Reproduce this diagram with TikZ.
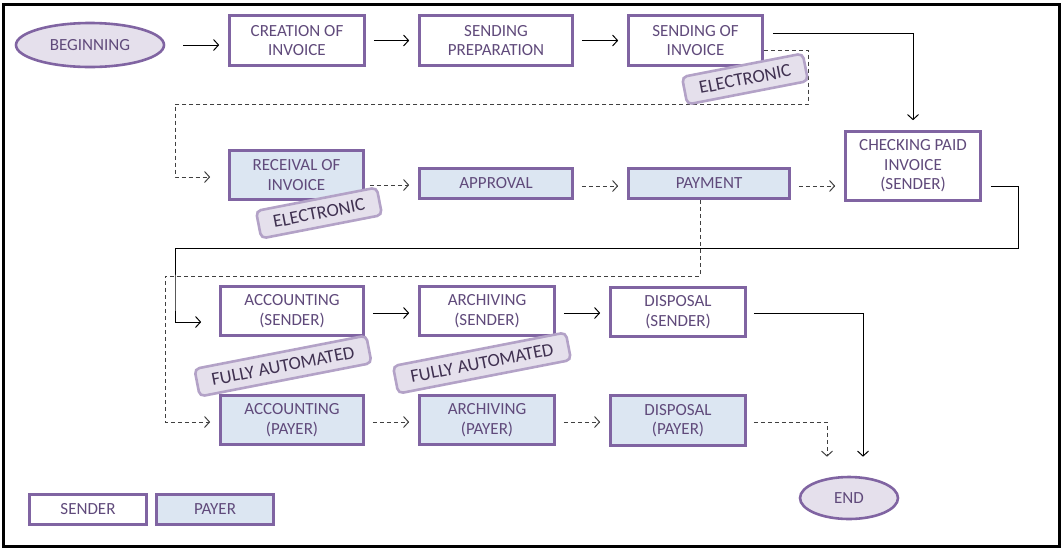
\documentclass[tikz,border=0pt]{standalone}
\usepackage{fontspec}
\setmainfont{Carlito}
\usetikzlibrary{arrows.meta,shapes.geometric}
\definecolor{pborder}{HTML}{8064A2}
\definecolor{ptext}{HTML}{604A7B}
\definecolor{pfill}{HTML}{E5E0EC}
\definecolor{bfill}{HTML}{DCE6F2}
\definecolor{tagborder}{HTML}{B3A2C7}
\definecolor{tagtext}{HTML}{403151}
\definecolor{dashgray}{HTML}{404040}
\tikzset{
  x=1pt,y=-1pt,
  box/.style={draw=pborder,line width=2.6pt,text=ptext,align=center,inner sep=0pt,
    font=\fontsize{17}{19.5}\selectfont},
  sbox/.style={box,fill=white},
  pbox/.style={box,fill=bfill},
  oval/.style={ellipse,draw=pborder,line width=2.6pt,fill=pfill,text=ptext,inner sep=0pt,
    font=\fontsize{17}{19.5}\selectfont},
  tag/.style={draw=tagborder,fill=pfill,line width=2.6pt,rounded corners=5pt,text=tagtext,
    inner sep=0pt,minimum height=28pt,font=\fontsize{18.5}{20}\selectfont},
  arr/.style={black,line width=1pt,-{Straight Barb[length=5pt,width=11pt]}},
  darr/.style={arr,dashgray,dash pattern=on 4pt off 3pt},
  gap/.style={shorten <=8pt,shorten >=9pt}
}
\begin{document}
\begin{tikzpicture}
\useasboundingbox (0,0) rectangle (1062,550);
\draw[line width=3pt] (3,4) rectangle (1059,546);

% nodes
\node[oval,minimum width=148pt,minimum height=44pt] (beg) at (90,45) {BEGINNING};
\node[sbox,minimum width=135pt,minimum height=50pt] (cre) at (297,40.5) {CREATION OF\\INVOICE};
\node[sbox,minimum width=153pt,minimum height=50pt] (prep) at (496,40.5) {SENDING\\PREPARATION};
\node[sbox,minimum width=134pt,minimum height=50pt] (soi) at (695.5,40.5) {SENDING OF\\INVOICE};
\node[sbox,minimum width=135pt,minimum height=69pt] (chk) at (913,166) {CHECKING PAID\\INVOICE\\(SENDER)};
\node[pbox,minimum width=134pt,minimum height=49pt] (rec) at (296.5,175) {RECEIVAL OF\\INVOICE};
\node[pbox,minimum width=153pt,minimum height=30pt] (app) at (496,183.5) {APPROVAL};
\node[pbox,minimum width=161pt,minimum height=30pt] (pay) at (709,183.5) {PAYMENT};
\node[sbox,minimum width=143pt,minimum height=49pt] (accs) at (292,311) {ACCOUNTING\\(SENDER)};
\node[sbox,minimum width=135pt,minimum height=49pt] (arcs) at (487,311) {ARCHIVING\\(SENDER)};
\node[sbox,minimum width=135pt,minimum height=49pt] (diss) at (678,312) {DISPOSAL\\(SENDER)};
\node[pbox,minimum width=143pt,minimum height=49pt] (accp) at (292,420) {ACCOUNTING\\(PAYER)};
\node[pbox,minimum width=135pt,minimum height=49pt] (arcp) at (487,420) {ARCHIVING\\(PAYER)};
\node[pbox,minimum width=135pt,minimum height=50pt] (disp) at (678,420.5) {DISPOSAL\\(PAYER)};
\node[oval,minimum width=98pt,minimum height=42pt] (fin) at (849,498) {END};
\node[sbox,minimum width=117pt,minimum height=30pt] (lgs) at (88,509.5) {SENDER};
\node[pbox,minimum width=117pt,minimum height=30pt] (lgp) at (215,509.5) {PAYER};

% solid connectors
\draw[arr,shorten <=18pt,shorten >=9pt] (beg) -- (beg -| cre.west);
\draw[arr,gap] (cre) -- (cre -| prep.west);
\draw[arr,gap] (prep) -- (prep -| soi.west);
\draw[arr,shorten <=9pt,shorten >=10pt] ([yshift=7pt]soi.east) -| (chk.north);
\draw[arr,shorten <=9pt,shorten >=18pt] ([yshift=-20pt]chk.east) -| (1018,248) -| (175,300) |- ([yshift=-11pt]accs.west);
\draw[arr,gap,shorten <=8pt] ([yshift=-2pt]accs.east) -- ([yshift=-2pt]accs.east -| arcs.west);
\draw[arr,gap] ([yshift=-2pt]arcs.east) -- ([yshift=-2pt]arcs.east -| diss.west);
\draw[arr,shorten <=7pt,shorten >=19pt] ([yshift=-1pt]diss.east) -| ([xshift=14pt]fin.north);

% dashed connectors
\draw[darr,shorten >=18pt] ([yshift=-10pt]soi.east) -- ++(45,0) |- (175,104) |- ([yshift=-2pt]rec.west);
\draw[darr,gap,shorten <=5pt] ([yshift=-10pt]rec.east) -- ([yshift=-10pt]rec.east -| app.west);
\draw[darr,gap] ([yshift=-2.5pt]app.east) -- ([yshift=-2.5pt]app.east -| pay.west);
\draw[darr,gap] ([yshift=-2.5pt]pay.east) -- ([yshift=-2.5pt]pay.east -| chk.west);
\draw[darr,shorten >=9pt] ([xshift=-9pt]pay.south) -- (700,276) -| (165,422) -- ([yshift=-2pt]accp.west);
\draw[darr,gap] ([yshift=-2pt]accp.east) -- ([yshift=-2pt]accp.east -| arcp.west);
\draw[darr,gap] ([yshift=-2pt]arcp.east) -- ([yshift=-2pt]arcp.east -| disp.west);
\draw[darr,shorten <=7pt,shorten >=19pt] ([yshift=-1.5pt]disp.east) -| ([xshift=-22pt]fin.north);

% tags
\node[tag,rotate=11,minimum width=123pt] (tag1) at (745,79) {ELECTRONIC};
\node[tag,rotate=11,minimum width=123pt] (tag2) at (319,213) {ELECTRONIC};
\node[tag,rotate=11,minimum width=175pt] (tag3) at (283,366) {FULLY AUTOMATED};
\node[tag,rotate=11,minimum width=176pt] (tag4) at (482,363) {FULLY AUTOMATED};
\end{tikzpicture}
\end{document}
